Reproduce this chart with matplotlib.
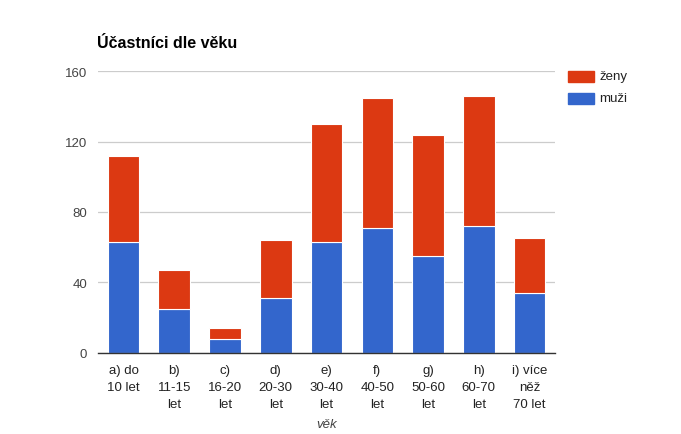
import matplotlib
matplotlib.use("Agg")
import matplotlib.pyplot as plt
import numpy as np

plt.rcParams["font.family"] = ["Liberation Sans", "DejaVu Sans"]

categories = ["a) do\n10 let", "b)\n11-15\nlet", "c)\n16-20\nlet", "d)\n20-30\nlet", "e)\n30-40\nlet",
              "f)\n40-50\nlet", "g)\n50-60\nlet", "h)\n60-70\nlet", "i) více\nněž\n70 let"]
muzi = [63, 25, 8, 31, 63, 71, 55, 72, 34]
zeny = [49, 22, 6, 33, 67, 74, 69, 74, 31]
yticks = [0, 40, 80, 120, 160]

BLUE = "#3366cc"
RED = "#dc3912"

fig = plt.figure(figsize=(6.81, 4.35), dpi=100)
ax = fig.add_axes([0.144, 0.187, 0.671, 0.647])

x = np.arange(len(categories))
ax.bar(x, muzi, width=0.62, color=BLUE, edgecolor="white", linewidth=0.8, zorder=3)
ax.bar(x, zeny, width=0.62, bottom=muzi, color=RED, edgecolor="white", linewidth=0.8, zorder=3)

ax.set_xlim(-0.5, len(categories) - 0.5)
ax.set_ylim(0, 160)
ax.set_yticks(yticks)
ax.set_yticklabels([str(t) for t in yticks], color="#444444", fontsize=9.5)
ax.set_xticks(x)
ax.set_xticklabels(categories, color="#222222", fontsize=9.5, linespacing=1.55, va="top")
ax.tick_params(axis="both", length=0, pad=8)
ax.tick_params(axis="x", pad=8)
ax.grid(axis="y", color="#cccccc", linewidth=0.9, zorder=0)
for s in ["top", "right", "left"]:
    ax.spines[s].set_visible(False)
ax.spines["bottom"].set_color("#333333")
ax.spines["bottom"].set_linewidth(1.0)
ax.spines["bottom"].set_zorder(4)

ax.set_xlabel("věk", fontstyle="italic", color="#444444", fontsize=9.5, labelpad=6)

fig.text(97 / 681, 1 - 44 / 435, "Účastníci dle věku", fontsize=11.5, fontweight="bold",
         color="#000000", va="center", ha="left")

# legend
for i, (label, col) in enumerate([("ženy", RED), ("muži", BLUE)]):
    yc = 1 - (77 + i * 22) / 435
    fig.patches.append(plt.Rectangle((568 / 681, yc - 5.5 / 435), 26 / 681, 11 / 435,
                                     transform=fig.transFigure, color=col))
    fig.text(599 / 681, yc, label, fontsize=9.5, color="#222222", va="center", ha="left")

fig.savefig("out.png", dpi=100)
